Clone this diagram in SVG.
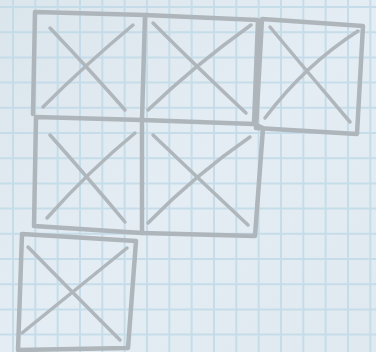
<svg xmlns="http://www.w3.org/2000/svg" width="376" height="352" viewBox="0 0 376 352">
<defs>
<linearGradient id="bg" x1="0" y1="0" x2="1" y2="1">
<stop offset="0" stop-color="#dbe5ec"/>
<stop offset="0.5" stop-color="#e4edf3"/>
<stop offset="1" stop-color="#dfe9ef"/>
</linearGradient>
<style>
.grid{stroke:#bfd9e8;stroke-width:2;fill:none;opacity:0.8}
.box{fill:none;stroke:#aeb6bb;stroke-width:4.5;stroke-linejoin:round;stroke-linecap:round}
.x{fill:none;stroke:#afb7bc;stroke-width:3.5;stroke-linecap:round}
</style>
</defs>
<rect width="376" height="352" fill="url(#bg)"/>
<g id="grid" class="grid">
<path d="M13,0V352M35.3,0V352M57.6,0V352M80,0V352M102.3,0V352M124.6,0V352M147,0V352M169.3,0V352M191.6,0V352M214,0V352M236.3,0V352M258.6,0V352M281,0V352M303.3,0V352M325.6,0V352M348,0V352M370.3,0V352"/>
<path d="M0,7H376M0,32.2H376M0,57.4H376M0,82.6H376M0,107.8H376M0,133H376M0,158.2H376M0,183.4H376M0,208.6H376M0,233.8H376M0,259H376M0,284.2H376M0,309.4H376M0,334.6H376"/>
</g>
<g id="sqA">
<path class="box" d="M33,114 L35,12 L145,15 L142,120"/>
<path class="x" d="M50,28 Q90,70 125,110 M133,25 Q85,65 43,107"/>
</g>
<g id="sqB">
<path class="box" d="M145,15 L258,20 L254,124 L142,120"/>
<path class="x" d="M153,23 Q200,70 246,113 M251,25 Q195,65 148,110"/>
</g>
<g id="sqC">
<path class="box" d="M262,19 L363,26 L357,134 L256,128 Z"/>
<path class="x" d="M270,27 Q310,75 350,122 M358,31 Q305,65 265,118"/>
</g>
<g id="sqD">
<path class="box" d="M36,117 L142,120 L142,233 L34,226 Z"/>
<path class="x" d="M50,135 Q90,180 125,222 M135,133 Q90,170 47,218"/>
</g>
<g id="sqE">
<path class="box" d="M254,124 L263,128 L255,236 L142,233"/>
<path class="x" d="M153,135 Q200,180 248,225 M250,137 Q195,175 148,223"/>
</g>
<g id="sqF">
<path class="box" d="M22,234 L136,241 L128,348 L18,350 Z"/>
<path class="x" d="M28,247 Q75,295 120,340 M127,248 Q75,290 22,333"/>
</g>
</svg>
